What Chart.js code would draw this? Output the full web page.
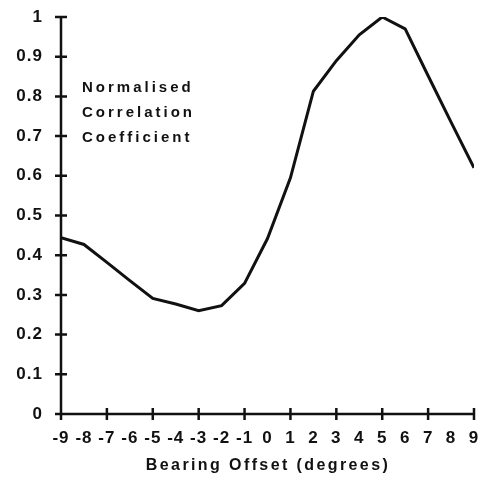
<!DOCTYPE html>
<html>
<head>
<meta charset="utf-8">
<script src="https://cdn.jsdelivr.net/npm/chart.js@4"></script>
<style>
    html, body { margin: 0; padding: 0; background: #fff; }
    #wrap { width: 482px; height: 489px; }
</style>
</head>
<body>
<div id="wrap"><canvas id="corrChart"></canvas></div>
<script>
// Data
const offsets = [-9, -8, -7, -6, -5, -4, -3, -2, -1, 0, 1, 2, 3, 4, 5, 6, 7, 8, 9];
const correlation = [0.444, 0.427, 0.382, 0.336, 0.291, 0.277, 0.26, 0.273, 0.329, 0.442, 0.595, 0.813, 0.89, 0.955, 1.0, 0.97, 0.852, 0.735, 0.62];
const xTickMarks = [-9, -7, -5, -3, -1, 1, 3, 5, 7, 9];
const yTickMarks = [0, 0.1, 0.2, 0.3, 0.4, 0.5, 0.6, 0.7, 0.8, 0.9, 1];
const annotationLines = ['Normalised', 'Correlation', 'Coefficient'];
const xTitle = 'Bearing Offset (degrees)';

const FONT = '"Liberation Sans", Arial, sans-serif';

// Tick marks that cross the axes, plus axis title and in-plot label
const axesDecor = {
    id: 'axesDecor',
    beforeDraw(chart) {
        chart.ctx.letterSpacing = '1px';
    },
    afterDraw(chart) {
        const ctx = chart.ctx;
        const x = chart.scales.x, y = chart.scales.y;
        const x0 = x.getPixelForValue(-9), y0 = y.getPixelForValue(0);
        ctx.save();
        ctx.strokeStyle = '#111';
        ctx.lineWidth = 2.5;
        ctx.beginPath();
        ctx.moveTo(x0, y.getPixelForValue(1));
        ctx.lineTo(x0, y0);
        ctx.lineTo(x.getPixelForValue(9), y0);
        yTickMarks.forEach(v => {
            const py = y.getPixelForValue(v);
            ctx.moveTo(x0 - 6, py);
            ctx.lineTo(x0 + 6, py);
        });
        xTickMarks.forEach(v => {
            const px = x.getPixelForValue(v);
            ctx.moveTo(px, y0 - 6);
            ctx.lineTo(px, y0 + 6);
        });
        ctx.stroke();

        ctx.fillStyle = '#111';
        ctx.font = 'bold 15px ' + FONT;
        ctx.letterSpacing = '3px';
        ctx.textAlign = 'left';
        ctx.textBaseline = 'middle';
        annotationLines.forEach((t, i) => ctx.fillText(t, 82, 88 + i * 25));

        ctx.font = 'bold 16px ' + FONT;
        ctx.letterSpacing = '2.4px';
        ctx.textAlign = 'center';
        ctx.fillText(xTitle, 268, 466);
        ctx.restore();
    }
};

new Chart(document.getElementById('corrChart').getContext('2d'), {
    type: 'line',
    data: {
        labels: offsets,
        datasets: [{
            data: offsets.map((o, i) => ({ x: o, y: correlation[i] })),
            borderColor: '#111',
            borderWidth: 3,
            pointRadius: 0,
            tension: 0,
            fill: false
        }]
    },
    options: {
        responsive: true,
        maintainAspectRatio: false,
        animation: false,
        layout: { padding: { top: 17, right: 0, left: 0, bottom: 0 } },
        plugins: {
            legend: { display: false },
            tooltip: { enabled: false }
        },
        scales: {
            x: {
                type: 'linear',
                min: -9,
                max: 9,
                grid: { display: false, drawTicks: false },
                border: { display: false },
                ticks: {
                    stepSize: 1,
                    padding: 14,
                    color: '#111',
                    maxRotation: 0,
                    autoSkip: false,
                    font: { family: FONT, size: 17, weight: 'bold' }
                },
                afterFit(scale) {
                    scale.height = 75;
                    scale.paddingLeft = 0;
                    scale.paddingRight = 8;
                }
            },
            y: {
                min: 0,
                max: 1,
                grid: { display: false, drawTicks: false },
                border: { display: false },
                ticks: {
                    stepSize: 0.1,
                    padding: 18,
                    color: '#111',
                    font: { family: FONT, size: 17, weight: 'bold' },
                    callback: v => Math.round(v * 10) / 10
                },
                afterFit(scale) {
                    scale.width = 61;
                    scale.paddingTop = 0;
                    scale.paddingBottom = 0;
                }
            }
        }
    },
    plugins: [axesDecor]
});
</script>
</body>
</html>
